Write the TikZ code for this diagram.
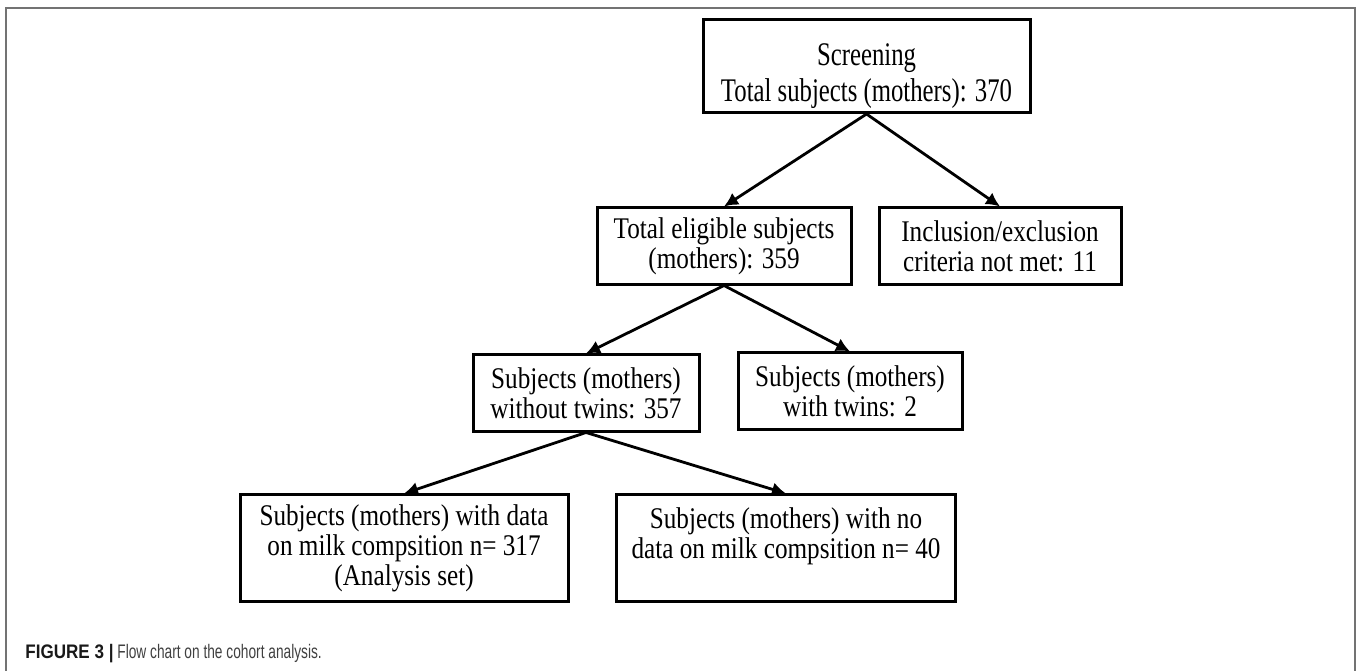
\documentclass[tikz,border=0pt]{standalone}
\usepackage{fontspec}
\setmainfont{Liberation Serif}
\newfontfamily\boxfont[FakeStretch=0.84]{Liberation Serif}
\newfontfamily\topfont[FakeStretch=0.75]{Liberation Serif}
\newfontfamily\capfont[FakeStretch=0.7]{Liberation Sans}
\newfontfamily\capbold[FakeStretch=0.87]{Liberation Sans}
\usepackage{tikz}
\usetikzlibrary{positioning,arrows.meta}

\begin{document}
\begin{tikzpicture}[
  box/.style={draw, line width=1.5pt, align=center, minimum height=1.336cm, font=\boxfont\fontsize{15}{15}\selectfont, inner sep=2pt},
  tallbox/.style={box, minimum height=1.863cm},
  topbox/.style={box, font=\topfont\fontsize{16.5}{18}\selectfont},
  arr/.style={-{Latex[length=7pt, width=7pt]}, line width=1.4pt},
  frame/.style={draw=black!55, line width=0.8pt}
]
\useasboundingbox (0,0) rectangle (23.899,-11.791);
\draw[frame] (0.105,-11.9) -- (0.105,-0.141) -- (23.811,-0.141) -- (23.811,-11.9);

\node[topbox, minimum width=5.746cm] (screen) at (15.227,-1.160) {\rule{0pt}{21pt}Screening\\ Total subjects (mothers): 370};
\node[box, minimum width=4.464cm] (elig) at (12.723,-4.323) {Total eligible subjects\\ (mothers): 359};
\node[box, minimum width=4.253cm] (incl) at (17.573,-4.323) {Inclusion/exclusion\\ criteria not met: 11};
\node[box, minimum width=3.971cm] (notwin) at (10.298,-6.906) {Subjects (mothers)\\ without twins: 357};
\node[box, minimum width=3.936cm] (twin) at (14.937,-6.871) {Subjects (mothers)\\ with twins: 2};
\node[tallbox, minimum width=5.764cm] (anal) at (7.100,-9.630) {Subjects (mothers) with data\\ on milk compsition n= 317\\ (Analysis set)};
\node[tallbox, minimum width=5.940cm] (nodata) at (13.812,-9.630) {Subjects (mothers) with no\\ data on milk compsition n= 40\\ \mbox{}};

\draw[arr] (screen.south) -- (elig.north);
\draw[arr] (screen.south) -- (incl.north);
\draw[arr] (elig.south) -- (notwin.north);
\draw[arr] (elig.south) -- (twin.north);
\draw[arr] (notwin.south) -- (anal.north);
\draw[arr] (notwin.south) -- (nodata.north);

\node[anchor=base west, inner sep=0pt, font=\capfont\fontsize{9.8}{12}\selectfont, text=black!75] (caption) at (0.44,-11.563) {{\capbold\bfseries\color{black!90}FIGURE 3 |} Flow chart on the cohort analysis.};
\end{tikzpicture}
\end{document}
